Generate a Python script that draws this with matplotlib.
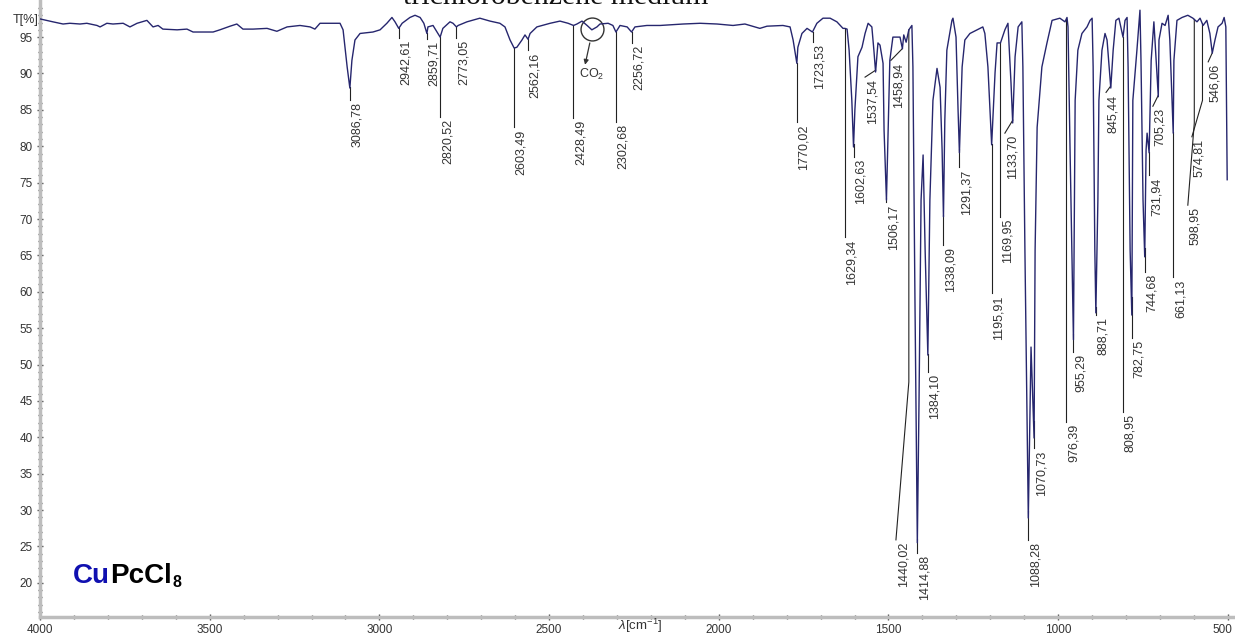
import numpy as np
import matplotlib.pyplot as plt
from matplotlib.ticker import MultipleLocator
from matplotlib.transforms import ScaledTranslation

plt.rcParams["font.family"] = ["Liberation Sans", "DejaVu Sans"]
plt.rcParams["mathtext.fontset"] = "custom"
plt.rcParams["mathtext.rm"] = "Liberation Sans"
plt.rcParams["mathtext.it"] = "Liberation Sans:italic"
plt.rcParams["mathtext.bf"] = "Liberation Sans:bold"

# spectrum (wavenumber in cm-1, transmittance in %)
wavenumber = np.array([
    4000, 3962, 3932, 3912, 3882, 3862, 3832, 3823, 3803, 3785, 3755, 3735, 3714, 3685,
    3667, 3652, 3638, 3596, 3567, 3549, 3529, 3490, 3470, 3440, 3420, 3402, 3372, 3331,
    3302, 3272, 3234, 3204, 3190, 3175, 3137, 3116, 3107, 3095, 3087, 3081, 3072, 3057,
    3019, 2998, 2978, 2963, 2954, 2943, 2933, 2910, 2895, 2880, 2869, 2860, 2857, 2842,
    2821, 2813, 2792, 2783, 2773, 2768, 2742, 2704, 2674, 2645, 2630, 2615, 2603, 2595,
    2580, 2571, 2562, 2556, 2536, 2497, 2468, 2444, 2428, 2418, 2403, 2388, 2374, 2359,
    2350, 2326, 2312, 2303, 2291, 2270, 2257, 2247, 2212, 2173, 2105, 2055, 2005, 1958,
    1923, 1879, 1858, 1811, 1790, 1781, 1770, 1767, 1755, 1740, 1724, 1711, 1693, 1672,
    1652, 1634, 1629, 1622, 1616, 1608, 1603, 1599, 1590, 1578, 1569, 1560, 1549, 1543,
    1538, 1531, 1525, 1516, 1513, 1506, 1501, 1496, 1487, 1475, 1466, 1459, 1455, 1448,
    1440, 1431, 1428, 1422, 1415, 1410, 1404, 1398, 1392, 1384, 1378, 1369, 1357, 1348,
    1342, 1338, 1334, 1328, 1313, 1310, 1301, 1295, 1291, 1283, 1275, 1260, 1239, 1222,
    1216, 1207, 1196, 1186, 1180, 1170, 1157, 1148, 1139, 1134, 1127, 1118, 1107, 1104,
    1098, 1088, 1080, 1071, 1068, 1062, 1048, 1033, 1018, 995, 980, 974, 971, 965,
    955, 950, 942, 930, 915, 906, 900, 897, 892, 889, 883, 880, 871, 862,
    856, 845, 838, 830, 821, 809, 803, 797, 794, 788, 783, 780, 768, 759,
    756, 750, 745, 741, 738, 732, 726, 718, 705, 703, 694, 685, 676, 671,
    661, 659, 650, 635, 618, 603, 591, 582, 573, 562, 553, 546, 538, 529,
    517, 511, 506, 502,
])
transmittance = np.array([
    97.5, 97.1, 96.8, 96.9, 96.8, 96.9, 96.6, 96.4, 96.9, 96.8, 96.9, 96.4, 96.9, 97.3,
    96.4, 96.6, 96.1, 96.0, 96.1, 95.7, 95.7, 95.7, 96.0, 96.5, 96.8, 96.1, 96.1, 96.2,
    95.8, 96.4, 96.6, 96.4, 96.1, 96.9, 96.9, 96.9, 96.0, 90.9, 88.0, 91.8, 94.6, 95.5,
    95.7, 96.0, 96.9, 97.7, 97.1, 96.2, 96.9, 97.7, 98.0, 97.7, 96.9, 95.5, 96.4, 96.6,
    95.0, 96.2, 97.1, 96.9, 96.4, 96.6, 97.1, 97.6, 97.2, 96.9, 96.4, 94.6, 93.5, 93.6,
    94.6, 95.3, 94.7, 95.5, 96.4, 96.9, 97.2, 96.9, 96.6, 96.8, 97.2, 96.6, 96.0, 96.4,
    96.8, 96.9, 96.6, 95.7, 96.6, 96.4, 95.7, 96.4, 96.6, 96.6, 96.8, 96.9, 96.8, 96.6,
    96.8, 96.2, 96.5, 96.6, 96.4, 94.6, 91.4, 93.6, 95.5, 96.2, 95.7, 96.9, 97.6, 97.6,
    97.1, 96.2, 96.2, 96.1, 93.2, 86.3, 79.9, 85.0, 92.3, 93.6, 95.5, 96.9, 96.4, 93.2,
    90.2, 94.2, 93.9, 91.4, 82.2, 72.6, 82.2, 91.8, 95.0, 95.0, 95.0, 93.4, 95.3, 94.3,
    96.0, 96.6, 90.9, 58.9, 25.5, 45.1, 72.6, 78.8, 65.7, 51.3, 72.6, 86.3, 90.7, 88.1,
    79.5, 70.3, 83.6, 93.2, 97.3, 97.6, 95.0, 85.0, 79.1, 90.9, 94.6, 95.5, 96.0, 96.4,
    95.5, 90.9, 80.2, 90.1, 94.2, 94.2, 96.0, 96.9, 88.7, 83.2, 92.3, 96.4, 97.1, 90.9,
    65.7, 28.9, 52.4, 39.9, 65.7, 82.6, 90.9, 94.2, 97.3, 97.6, 97.1, 97.7, 96.4, 79.5,
    53.4, 86.3, 93.2, 95.5, 96.4, 97.3, 97.6, 90.9, 65.7, 57.1, 72.6, 86.3, 93.2, 95.5,
    94.6, 88.0, 93.2, 97.3, 97.6, 95.0, 97.3, 97.7, 90.9, 65.7, 56.8, 86.3, 93.2, 98.7,
    91.8, 72.6, 64.8, 79.5, 81.8, 79.1, 91.8, 97.1, 86.8, 94.6, 96.9, 96.6, 98.0, 94.6,
    81.8, 91.8, 97.3, 97.7, 98.0, 97.6, 97.1, 97.6, 96.6, 97.3, 95.5, 92.8, 94.6, 96.4,
    96.9, 97.7, 96.4, 75.4,
])

# peak labels and where their leader lines end
peak_labels = [
    "3086,78", "2942,61", "2859,71", "2820,52", "2773,05", "2603,49", "2562,16",
    "2428,49", "2302,68", "2256,72", "1770,02", "1723,53", "1629,34", "1602,63",
    "1537,54", "1506,17", "1458,94", "1440,02", "1414,88", "1384,10", "1338,09",
    "1291,37", "1195,91", "1169,95", "1133,70", "1088,28", "1070,73", "976,39",
    "955,29", "888,71", "845,44", "808,95", "782,75", "744,68", "731,94",
    "705,23", "661,13", "598,95", "574,81", "546,06",
]
label_end_T = [
    86.3, 94.9, 94.8, 84.0, 94.9, 82.6, 93.2,
    83.9, 83.3, 94.2, 83.3, 94.3, 67.5, 78.5,
    89.5, 72.3, 91.8, 25.9, 24.1, 49.0, 66.4,
    77.1, 59.8, 70.3, 81.8, 25.9, 38.5, 42.1,
    51.7, 56.8, 87.4, 43.5, 53.7, 62.7, 76.0,
    85.5, 62.0, 71.9, 81.3, 91.6,
]
# labels moved sideways from their peak (wavenumber of the line end)
label_shift_wn = {"1537,54": 1569, "1458,94": 1493, "1440,02": 1478, "1133,70": 1157,
                  "845,44": 859, "705,23": 721, "598,95": 618, "574,81": 606,
                  "546,06": 558}
# leader lines that first drop straight down to this T before slanting
label_bend_T = {"1440,02": 47.6, "598,95": 83.2, "574,81": 86.3}

co2_wn, co2_T = 2374, 96.1

fig = plt.figure(figsize=(12.35, 6.35), dpi=100)
ax = fig.add_axes([40 / 1235, 18 / 635, 1 - 40 / 1235, 1 - 18 / 635])

ax.plot(wavenumber, transmittance, color="#26266e", lw=1.0, zorder=3)

wn_up = wavenumber[::-1]
t_up = transmittance[::-1]
for lab, t_end in zip(peak_labels, label_end_T):
    wn = float(lab.replace(",", "."))
    t_start = np.interp(wn, wn_up, t_up)
    wn_end = label_shift_wn.get(lab, wn)
    t_bend = label_bend_T.get(lab, t_start)
    ax.plot([wn, wn, wn_end], [t_start, t_bend, t_end], color="#222222", lw=0.8, zorder=2)
    ax.annotate(lab, xy=(wn_end, t_end), xytext=(5.2, -1.5), textcoords="offset points",
                rotation=90, ha="center", va="top", fontsize=9, color="#333333")

# CO2 band marker
ax.plot(co2_wn, co2_T, marker="o", ms=16.5, mfc="none", mec="#333333", mew=1.0)
ax.annotate("", xy=(co2_wn + 20, co2_T - 4.9), xytext=(co2_wn + 6, co2_T - 1.9),
            arrowprops=dict(arrowstyle="-|>", color="#333333", lw=0.9,
                            mutation_scale=7, shrinkA=0, shrinkB=0))
ax.text(co2_wn, co2_T - 6.3, "CO$_2$", ha="center", va="center", fontsize=9, color="#333333")

ax.set_xlim(4000, 479)
ax.set_ylim(15.3, 100.1)
ax.set_xticks(np.arange(4000, 499, -500))
ax.xaxis.set_minor_locator(MultipleLocator(100))
ax.set_yticks(np.arange(20, 100, 5))
ax.set_yticks(np.arange(16, 100, 1), minor=True)
ax.tick_params(which="major", direction="inout", length=4, width=1, color="#555555",
               labelsize=8.5, labelcolor="#333333", pad=3)
ax.tick_params(which="minor", direction="inout", length=2.5, width=1, color="#555555")
for side in ["top", "right"]:
    ax.spines[side].set_visible(False)
for side in ["left", "bottom"]:
    ax.spines[side].set_color("#bdbdbd")
    ax.spines[side].set_linewidth(2.5)

# last x label sits a bit left so it stays inside the picture
last = ax.get_xticklabels()[-1]
last.set_transform(last.get_transform() + ScaledTranslation(-5 / 100, 0, fig.dpi_scale_trans))

fig.text(39 / 1235, 1 - 19.5 / 635, "T[%]", ha="right", va="center", fontsize=9, color="#333333")
fig.text(640 / 1235, 1 - 626 / 635, r"$\lambda$[cm$^{-1}$]", ha="center", va="center",
         fontsize=9.5, color="#333333")
fig.text(556 / 1235, 1 - 4 / 635, "trichlorobenzene medium", ha="center", va="baseline",
         fontsize=21.5, family="Liberation Serif", color="#111111")

# compound name: blue Cu, black PcCl, subscript 8
r = fig.canvas.get_renderer()
y0 = 1 - 583 / 635
t1 = fig.text(73 / 1235, y0, "Cu", fontsize=20, fontweight="bold", color="#1010b0", va="baseline")
bb = t1.get_window_extent(r)
t2 = fig.text(bb.x1 / fig.bbox.width, y0, "PcCl", fontsize=20, fontweight="bold",
              color="black", va="baseline")
bb = t2.get_window_extent(r)
fig.text(bb.x1 / fig.bbox.width + 1 / 1235, y0 - 4 / 635, "8", fontsize=11.5,
         fontweight="bold", color="black", va="baseline")

fig.savefig("out.png", dpi=100)
